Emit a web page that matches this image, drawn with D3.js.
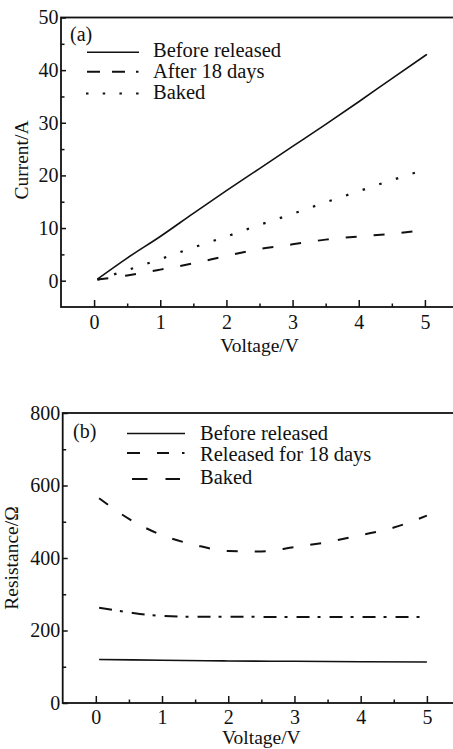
<!DOCTYPE html>
<html><head><meta charset="utf-8">
<script src="https://cdn.jsdelivr.net/npm/d3@7"></script>
<style>body{margin:0;background:#fff}svg{display:block}</style>
</head><body><svg id="c" width="453" height="749"></svg>
<script>
// ---- data: panel (a) I-V ----
const aBeforeV = [0.05,0.5,1,1.5,2,2.5,3,3.5,4,4.5,5.03];
const aBeforeI = [0.3,4.3,8.4,12.8,17.1,21.3,25.5,29.7,34,38.4,43];
const aAfterV  = [0.05,0.5,1,1.5,2,2.5,3,3.5,4,4.5,4.85];
const aAfterI  = [0.2,1.0,2.1,3.3,4.7,6.0,6.9,7.8,8.4,8.9,9.4];
const aBakedV  = [0.05,0.5,1,1.5,2,2.5,3,3.5,4,4.5,4.85];
const aBakedI  = [0.2,2.0,4.1,6.3,8.4,10.6,12.7,14.9,17.0,19.1,20.5];
const aLegend  = ["Before released","After 18 days","Baked"];
const aYTicks  = [0,10,20,30,40,50];
// ---- data: panel (b) R-V ----
const bBeforeV = [0.05,1,2,3,4,5];
const bBeforeR = [120,118,116,115,114,113];
const bRelV    = [0.05,0.5,1,1.5,2,2.5,3,3.5,4,4.5,5];
const bRelR    = [565,508,463,436,419,418,430,444,463,484,517];
const bBakedV  = [0.05,0.5,1,1.5,2,3,4,5];
const bBakedR  = [263,250,240,238,238,237,237,237];
const bLegend  = ["Before released","Released for 18 days","Baked"];
const bYTicks  = [0,200,400,600,800];
const xTicks   = [0,1,2,3,4,5];

const FONT = "Liberation Serif";
const svg = d3.select("#c");
const FS = 19.5, TFS = 20, LFS = 20.5;

function txt(g){ return g.append("text").style("font-family",FONT).style("fill","#111"); }

function panel(o){
  const g = svg.append("g");
  const x = d3.scaleLinear().domain([-0.5,5.5]).range([o.left,o.right]);
  const y = d3.scaleLinear().domain(o.yDomain).range([o.bottom,o.top]);
  g.append("rect").attr("x",o.left).attr("y",o.top).attr("width",o.right-o.left).attr("height",o.bottom-o.top)
    .attr("fill","none").attr("stroke","#111").attr("stroke-width",1.8);
  const xMinor = [0.5,1.5,2.5,3.5,4.5];
  g.append("g").attr("transform",`translate(0,${o.bottom})`)
    .call(d3.axisBottom(x).tickValues(xTicks).tickSize(-7).tickPadding(o.xPad).tickFormat(d3.format("d")))
    .call(a=>a.select(".domain").remove());
  g.append("g").attr("transform",`translate(0,${o.bottom})`)
    .call(d3.axisBottom(x).tickValues(xMinor).tickSize(-3.5).tickFormat(""))
    .call(a=>a.select(".domain").remove());
  g.append("g").attr("transform",`translate(${o.left},0)`)
    .call(d3.axisLeft(y).tickValues(o.yTicks).tickSize(-5).tickPadding(2.5).tickFormat(d3.format("d")))
    .call(a=>a.select(".domain").remove());
  g.append("g").attr("transform",`translate(${o.left},0)`)
    .call(d3.axisLeft(y).tickValues(o.yMinor).tickSize(-3.5).tickFormat(""))
    .call(a=>a.select(".domain").remove());
  g.selectAll(".tick line").attr("stroke","#111").attr("stroke-width",1.5);
  g.selectAll(".tick text").attr("font-family",FONT).attr("font-size",TFS).attr("fill","#111");
  txt(g).attr("x",(x(0)+x(5))/2).attr("y",o.xLabelY).attr("text-anchor","middle").style("font-size",FS+"px").text("Voltage/V");
  txt(g).attr("transform",`translate(${o.yLabelX},${o.yLabelY}) rotate(-90)`).attr("text-anchor","middle").style("font-size",FS+"px").text(o.yLabel);
  const line = d3.line().x(d=>x(d[0])).y(d=>y(d[1])).curve(d3.curveMonotoneX);
  o.series.forEach(s=>{
    g.append("path").attr("d",line(s.v.map((v,i)=>[v,s.y[i]]))).attr("fill","none").attr("stroke","#111")
      .attr("stroke-width",s.w||1.6).attr("stroke-dasharray",s.dash||null);
  });
  txt(g).attr("x",o.tag[1]).attr("y",o.tag[2]).style("font-size",TFS+"px").text(o.tag[0]);
  o.legend.forEach((L,i)=>{
    g.append("line").attr("x1",L.x1).attr("x2",L.x2).attr("y1",L.ly).attr("y2",L.ly).attr("stroke","#111")
      .attr("stroke-width",L.w||1.6).attr("stroke-dasharray",L.dash||null);
    txt(g).attr("x",o.legendTextX).attr("y",L.ty).style("font-size",LFS+"px").text(o.legendNames[i]);
  });
}

panel({
  left:61,right:458,top:17.5,bottom:307,yDomain:[-5,50],yTicks:aYTicks,yMinor:[5,15,25,35,45],
  xPad:8,xLabelY:352,yLabelX:28,yLabelY:160,yLabel:"Current/A",
  series:[
    {v:aBeforeV,y:aBeforeI},
    {v:aAfterV,y:aAfterI,dash:"11,17",w:2},
    {v:aBakedV,y:aBakedI,dash:"2.5,15",w:2.2}
  ],
  tag:["(a)",70,41],
  legendTextX:153,legendNames:aLegend,
  legend:[
    {x1:87,x2:139,ly:52.3,ty:57},
    {x1:87,x2:139,ly:71.7,ty:78,dash:"13,12,13,11,2.5,200",w:2},
    {x1:86,x2:140,ly:93.5,ty:99.3,dash:"2.5,14.2",w:2.2}
  ]
});

panel({
  left:62.7,right:460,top:413,bottom:703,yDomain:[0,800],yTicks:bYTicks,yMinor:[100,300,500,700],
  xPad:7,xLabelY:744,yLabelX:18,yLabelY:558,yLabel:"Resistance/Ω",
  series:[
    {v:bBeforeV,y:bBeforeR},
    {v:bRelV,y:bRelR,dash:"11,17",w:2},
    {v:bBakedV,y:bBakedR,dash:"13,8,3,9",w:2}
  ],
  tag:["(b)",73,438],
  legendTextX:200,legendNames:bLegend,
  legend:[
    {x1:127,x2:185,ly:433.5,ty:440},
    {x1:127,x2:185,ly:453,ty:461,dash:"13,17,12,13,2.5,200",w:2},
    {x1:132,x2:180,ly:479,ty:484,dash:"15.5,18,15.5",w:2}
  ]
});
</script></body></html>
